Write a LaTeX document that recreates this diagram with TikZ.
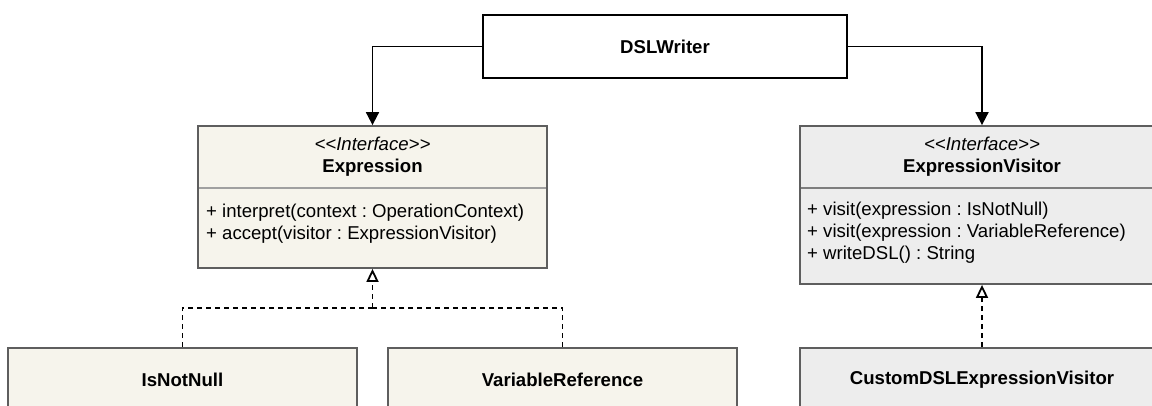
\documentclass[tikz,border=0pt]{standalone}
\usepackage{fontspec}
\setmainfont{Liberation Sans}
\usetikzlibrary{arrows.meta}
\definecolor{beige}{HTML}{F6F4EC}
\definecolor{lgray}{HTML}{EDEDED}
\definecolor{bordergray}{HTML}{5E5E5E}
\definecolor{sepgray}{HTML}{A0A0A0}
\frenchspacing
\begin{document}
\begin{tikzpicture}[x=1pt,y=-1pt,
  txt/.style={inner sep=0pt, font=\fontsize{18.6}{22}\selectfont},
  boldtxt/.style={inner sep=0pt, font=\fontsize{18.6}{22}\selectfont\bfseries},
  ittxt/.style={inner sep=0pt, font=\fontsize{18.6}{22}\selectfont\itshape},
  box/.style={rectangle, draw=bordergray, line width=1.8pt, inner sep=0pt, font=\fontsize{18.6}{22}\selectfont\bfseries},
  beigebox/.style={box, fill=beige},
  graybox/.style={box, fill=lgray},
  plainbox/.style={box, draw=black, fill=white},
  sepline/.style={draw=sepgray, line width=1.2pt},
  assoc/.style={draw=black, line width=1.8pt, -{Triangle[length=13pt,width=13pt]}},
  realize/.style={draw=black, line width=1.8pt, dash pattern=on 5pt off 4pt},
  realtip/.style={realize, -{Triangle[open, length=13pt, width=12pt]}},
]
\useasboundingbox (0,0) rectangle (1152,406);
\clip (0,0) rectangle (1152,406);

% DSLWriter
\node[plainbox, minimum width=364pt, minimum height=63pt] (dsl) at (665,46.5) {DSLWriter};

% Expression interface
\node[beigebox, minimum width=349pt, minimum height=142pt] (expr) at (372.5,197) {};
\draw[sepline] (199,188) -- (546,188);
\node[ittxt, anchor=base] (exprst) at (372.5,151) {<\kern0pt<Interface>\kern0pt>};
\node[boldtxt, anchor=base] (exprname) at (372.5,173) {Expression};
\node[txt, anchor=base west] (exprm1) at (206,218) {+ interpret(context : OperationContext)};
\node[txt, anchor=base west] (exprm2) at (206,239.5) {+ accept(visitor : ExpressionVisitor)};

% ExpressionVisitor interface
\node[graybox, minimum width=364pt, minimum height=158pt] (ev) at (982,205) {};
\draw[sepline, draw=bordergray!80] (801,188) -- (1163,188);
\node[ittxt, anchor=base] (evst) at (982,151) {<\kern0pt<Interface>\kern0pt>};
\node[boldtxt, anchor=base] (evname) at (982,173) {ExpressionVisitor};
\node[txt, anchor=base west] (evm1) at (807,216) {+ visit(expression : IsNotNull)};
\node[txt, anchor=base west] (evm2) at (807,238) {+ visit(expression : VariableReference)};
\node[txt, anchor=base west] (evm3) at (807,260) {+ writeDSL() : String};

% Implementations
\node[beigebox, minimum width=349pt, minimum height=64pt] (inn) at (182.5,380) {IsNotNull};
\node[beigebox, minimum width=349pt, minimum height=64pt] (vr) at (562.5,380) {VariableReference};
\node[graybox, minimum width=364pt, minimum height=64pt] (cdev) at (982,380) {CustomDSLExpressionVisitor};

% Connectors
\draw[assoc] (dsl.west) -| (expr.north);
\draw[assoc] (dsl.east) -| (ev.north);
\coordinate (j1) at (372.5,308);
\draw[realize] (inn.north) |- (j1);
\draw[realize] (vr.north) |- (j1);
\draw[realtip] (j1) -- (expr.south);
\draw[realtip] (cdev.north) -- (ev.south);
\end{tikzpicture}
\end{document}
